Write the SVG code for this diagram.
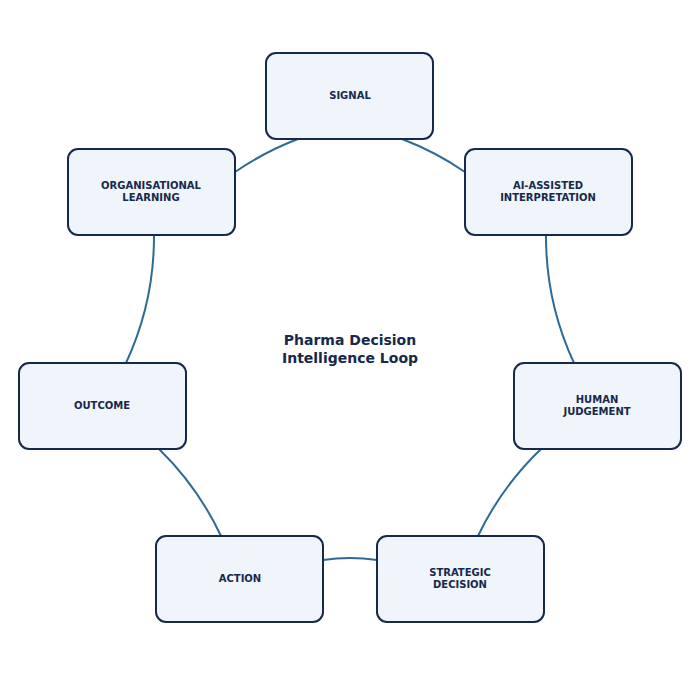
<svg xmlns="http://www.w3.org/2000/svg" width="700" height="700" viewBox="0 0 700 700">
<style>
.n rect{fill:#f0f4fb;stroke:#16294a;stroke-width:2}
.n text{font-family:"DejaVu Sans",sans-serif;font-size:10px;font-weight:bold;fill:#16294a;text-anchor:middle}
.c path{fill:none;stroke:#2d6a98;stroke-width:2}
.t{font-family:"DejaVu Sans",sans-serif;font-size:14px;font-weight:bold;fill:#16294a;text-anchor:middle}
</style>
<rect width="700" height="700" fill="#fff"/>
<g class="c">
<path d="M402,139 A300 300 0 0 1 465,172"/>
<path d="M546,235 A300 300 0 0 0 574,363"/>
<path d="M541,449 A300 300 0 0 0 478,536"/>
<path d="M377,560 Q350,556 323,560"/>
<path d="M221,536 A300 300 0 0 0 159,449"/>
<path d="M126,363 A300 300 0 0 0 154,235"/>
<path d="M235,172 A300 300 0 0 1 298,139"/>
</g>
<g id="signal" class="n"><rect x="266" y="53" width="167" height="86" rx="10"/><text x="350" y="99">SIGNAL</text></g>
<g id="ai" class="n"><rect x="465" y="149" width="167" height="86" rx="10"/><text x="548" y="189">AI-ASSISTED</text><text x="548" y="201">INTERPRETATION</text></g>
<g id="human" class="n"><rect x="514" y="363" width="167" height="86" rx="10"/><text x="597" y="403">HUMAN</text><text x="597" y="415">JUDGEMENT</text></g>
<g id="strategic" class="n"><rect x="377" y="536" width="167" height="86" rx="10"/><text x="460" y="576">STRATEGIC</text><text x="460" y="588">DECISION</text></g>
<g id="action" class="n"><rect x="156" y="536" width="167" height="86" rx="10"/><text x="240" y="582">ACTION</text></g>
<g id="outcome" class="n"><rect x="19" y="363" width="167" height="86" rx="10"/><text x="102" y="409">OUTCOME</text></g>
<g id="learning" class="n"><rect x="68" y="149" width="167" height="86" rx="10"/><text x="151" y="189">ORGANISATIONAL</text><text x="151" y="201">LEARNING</text></g>
<text class="t" x="350" y="345">Pharma Decision</text>
<text class="t" x="350" y="363">Intelligence Loop</text>
</svg>
